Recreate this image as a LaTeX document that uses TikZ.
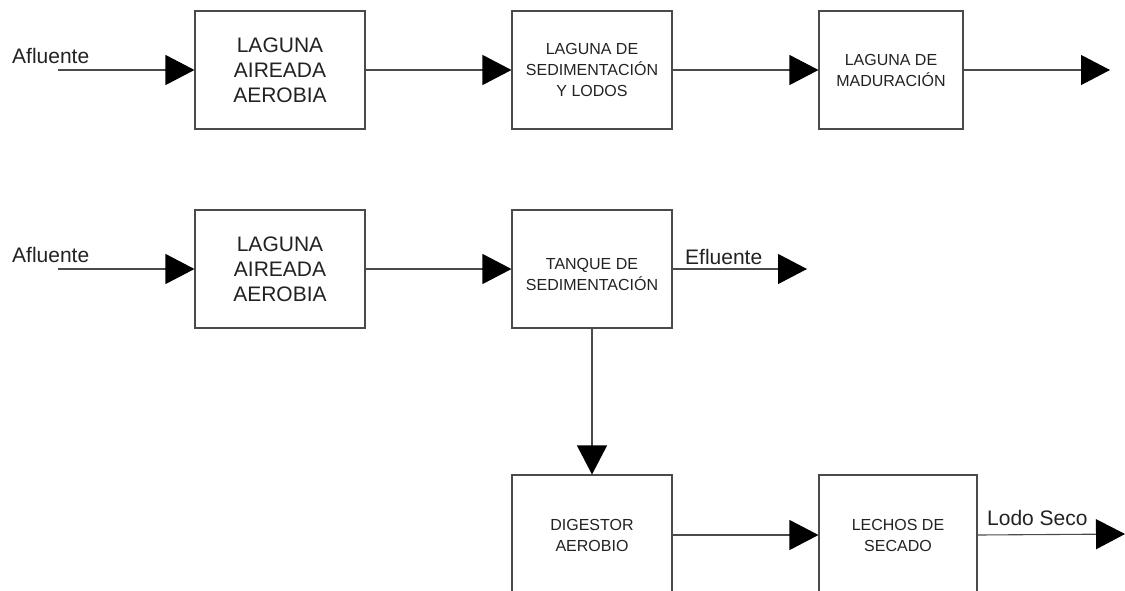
\documentclass[tikz,border=0pt]{standalone}
\usepackage{fontspec}
\setmainfont{Liberation Sans}
\usetikzlibrary{arrows.meta}
\definecolor{linec}{HTML}{4A4A4A}
\definecolor{textc}{HTML}{222222}
\tikzset{
  procbox/.style={draw=linec, line width=1.1pt, fill=white, align=center, text=textc, inner sep=0pt},
  bigtext/.style={font=\fontsize{21}{25}\selectfont},
  smalltext/.style={font=\fontsize{16}{21}\selectfont},
  flow/.style={draw=linec, line width=1.1pt, -{Triangle[length=29pt,width=30pt,fill=black,color=black]}},
  lbl/.style={font=\fontsize{21}{24}\selectfont, text=textc, inner sep=0pt, anchor=base west}
}
\begin{document}
\begin{tikzpicture}[x=1pt,y=-1pt]
\useasboundingbox (0,0) rectangle (1125,590);
% row 1
\node[procbox,bigtext,minimum width=170pt,minimum height=118pt] (a1) at (280,70) {LAGUNA\\AIREADA\\AEROBIA};
\node[procbox,smalltext,minimum width=160pt,minimum height=118pt] (b1) at (592,70) {LAGUNA DE\\SEDIMENTACIÓN\\Y LODOS};
\node[procbox,smalltext,minimum width=144pt,minimum height=118pt] (c1) at (891,70) {LAGUNA DE\\MADURACIÓN};
\coordinate (in1) at (58,70);
\coordinate (out1) at (1110,70);
\node[lbl] (af1) at (12,63) {Afluente};
\draw[flow] (in1) -- (a1.west);
\draw[flow] (a1.east) -- (b1.west);
\draw[flow] (b1.east) -- (c1.west);
\draw[flow] (c1.east) -- (out1);
% row 2
\node[procbox,bigtext,minimum width=170pt,minimum height=118pt] (a2) at (280,269) {LAGUNA\\AIREADA\\AEROBIA};
\node[procbox,minimum width=160pt,minimum height=118pt] (b2) at (592,269) {};
\node[smalltext,align=center,text=textc,inner sep=0pt] (b2t) at (592,274) {TANQUE DE\\SEDIMENTACIÓN};
\coordinate (in2) at (58,269);
\coordinate (out2) at (807,269);
\node[lbl] (af2) at (12,262) {Afluente};
\node[lbl] (ef) at (685,264) {Efluente};
\draw[flow] (in2) -- (a2.west);
\draw[flow] (a2.east) -- (b2.west);
\draw[flow] (b2.east) -- (out2);
% row 3
\node[procbox,smalltext,minimum width=160pt,minimum height=120pt] (d) at (592,535) {DIGESTOR\\AEROBIO};
\node[procbox,smalltext,minimum width=158pt,minimum height=120pt] (e) at (898,535) {LECHOS DE\\SECADO};
\coordinate (out3) at (1125,534);
\node[lbl] (ls) at (987,525) {Lodo Seco};
\draw[flow] (b2.south) -- (d.north);
\draw[flow] (d.east) -- (e.west);
\draw[flow] (e.east) -- (out3);
\end{tikzpicture}
\end{document}
